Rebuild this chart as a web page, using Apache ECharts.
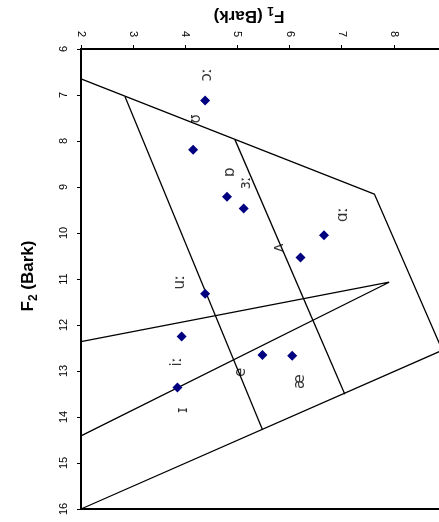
<!DOCTYPE html>
<html>
<head>
<meta charset="utf-8">
<script src="https://cdn.jsdelivr.net/npm/echarts@6/dist/echarts.min.js"></script>
<style>
  html, body { margin: 0; padding: 0; background: #fff; }
  #chart { width: 439px; height: 522px; }
</style>
</head>
<body>
<div id="chart"></div>
<script>
// ---- data ----
var vowels   = ['ɔː', 'ʊ', 'ɒ', 'ɜː', 'ɑː', 'ʌ', 'uː', 'iː', 'ɪ', 'e', 'æ'];
var pointF1  = [4.38, 4.15, 4.80, 5.12, 6.66, 6.21, 4.38, 3.93, 3.85, 5.48, 6.05];
var pointF2  = [7.12, 8.19, 9.21, 9.47, 10.05, 10.53, 11.32, 12.25, 13.36, 12.65, 12.67];
var labelF1  = [4.41, 4.20, 4.86, 5.17, 7.03, 5.80, 3.90, 3.85, 3.96, 5.08, 6.20];
var labelF2  = [6.56, 7.52, 8.68, 8.91, 9.60, 10.32, 11.07, 12.80, 13.85, 13.03, 13.23];

// boundary polylines, [F1, F2] pairs
var outerBoundary = [[2, 6.65], [7.626, 9.154], [8.93, 12.55], [2, 16]];
var frontBackLine = [[2.843, 7.03], [5.483, 14.28]];
var lowLine       = [[4.952, 7.97], [7.06, 13.505]];
var wedgeLine     = [[2, 12.36], [7.91, 11.07], [2, 14.41]];

var f1Ticks = [2, 3, 4, 5, 6, 7, 8];
var f2Ticks = [6, 7, 8, 9, 10, 11, 12, 13, 14, 15, 16];

// ---- chart ----
var chart = echarts.init(document.getElementById('chart'), null, { renderer: 'canvas' });

function lineSeries(pts) {
  return {
    type: 'line', data: pts, symbol: 'none', silent: true,
    lineStyle: { color: '#000', width: 1.3 }, z: 2, animation: false
  };
}

var pointData = vowels.map(function (v, i) { return [pointF1[i], pointF2[i], v]; });
var labelData = vowels.map(function (v, i) { return [labelF1[i], labelF2[i], v]; });

var option = {
  animation: false,
  backgroundColor: '#fff',
  grid: {
    left: 81, top: 49, width: 365, height: 460,
    outerBoundsMode: 'none',
    show: true, borderColor: '#000', borderWidth: 2, containLabel: false
  },
  xAxis: {
    type: 'value', position: 'top', min: 2, max: 9, interval: 1,
    axisLine: { show: true, lineStyle: { color: '#000', width: 2 } },
    axisTick: { show: true, length: 4, lineStyle: { color: '#000', width: 1 } },
    splitLine: { show: false },
    axisLabel: {
      rotate: 90, margin: 12, color: '#000', fontSize: 11,
      fontFamily: 'Liberation Sans, Arial, sans-serif',
      formatter: function (v) { return f1Ticks.indexOf(v) >= 0 ? String(v) : ''; }
    }
  },
  yAxis: {
    type: 'value', inverse: true, min: 6, max: 16, interval: 1,
    axisLine: { show: true, lineStyle: { color: '#000', width: 2 } },
    axisTick: { show: true, length: 4, lineStyle: { color: '#000', width: 1 } },
    splitLine: { show: false },
    axisLabel: {
      rotate: 90, margin: 12, color: '#000', fontSize: 11,
      fontFamily: 'Liberation Sans, Arial, sans-serif',
      formatter: function (v) { return f2Ticks.indexOf(v) >= 0 ? String(v) : ''; }
    }
  },
  graphic: [
    {
      type: 'text', x: 249, y: 16, rotation: Math.PI, z: 10,
      style: {
        text: '{a|F}{s|1}{a| (Bark)}',
        align: 'center', verticalAlign: 'middle',
        rich: {
          a: { fontSize: 17, fontWeight: 'bold', fontFamily: 'Liberation Sans, Arial, sans-serif', fill: '#000', verticalAlign: 'bottom' },
          s: { fontSize: 12, fontWeight: 'bold', fontFamily: 'Liberation Sans, Arial, sans-serif', fill: '#000', verticalAlign: 'bottom', padding: [0, 0, -3, 0] }
        }
      }
    },
    {
      type: 'text', x: 28, y: 276, rotation: Math.PI / 2, z: 10,
      style: {
        text: '{a|F}{s|2}{a| (Bark)}',
        align: 'center', verticalAlign: 'middle',
        rich: {
          a: { fontSize: 17, fontWeight: 'bold', fontFamily: 'Liberation Sans, Arial, sans-serif', fill: '#000', verticalAlign: 'bottom' },
          s: { fontSize: 12, fontWeight: 'bold', fontFamily: 'Liberation Sans, Arial, sans-serif', fill: '#000', verticalAlign: 'bottom', padding: [0, 0, -3, 0] }
        }
      }
    }
  ],
  series: [
    lineSeries(outerBoundary),
    lineSeries(frontBackLine),
    lineSeries(lowLine),
    lineSeries(wedgeLine),
    {
      type: 'scatter', data: pointData, symbol: 'diamond', symbolSize: 10,
      itemStyle: { color: '#000080', opacity: 1 }, z: 5, silent: true
    },
    {
      type: 'scatter', data: labelData, symbolSize: 1,
      itemStyle: { color: 'rgba(0,0,0,0)' }, z: 6, silent: true,
      label: {
        show: true, position: 'inside', rotate: 90,
        color: '#000', fontSize: 15, fontFamily: 'DejaVu Sans, sans-serif',
        formatter: function (p) { return p.data[2]; }
      }
    }
  ]
};
chart.setOption(option);
</script>
</body>
</html>
